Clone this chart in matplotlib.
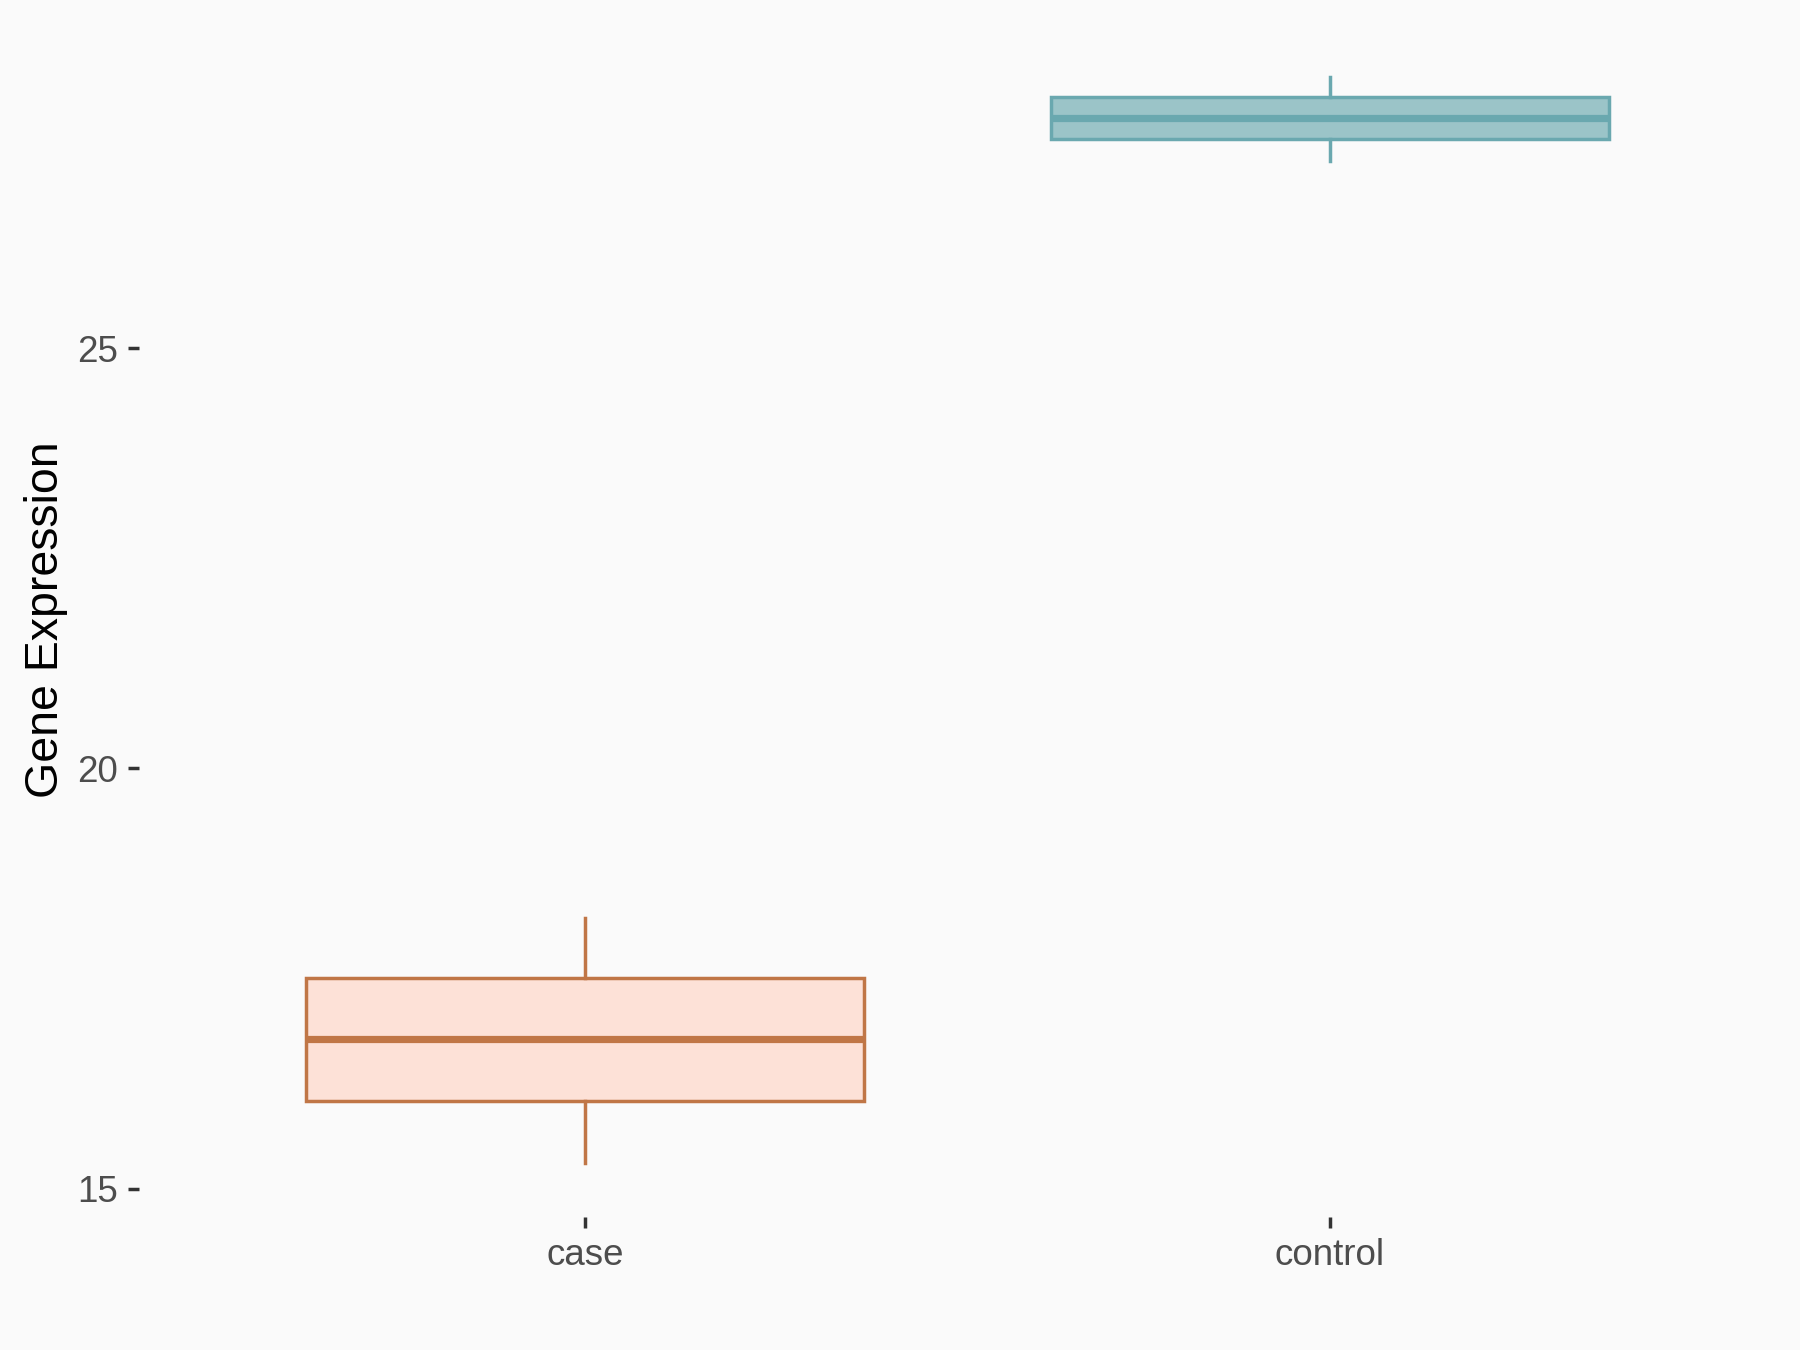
import matplotlib
matplotlib.use("Agg")
import matplotlib.pyplot as plt

groups = ["case", "control"]
q1 = [16.05, 27.49]
med = [16.78, 27.73]
q3 = [17.51, 27.98]
wlo = [15.31, 27.23]
whi = [18.22, 28.22]
edge_colors = ["#C07646", "#6AA8AF"]
fill_colors = ["#FDE1D7", "#9BC4C8"]
yticks = [15, 20, 25]

plt.rcParams['font.family'] = ['Liberation Sans', 'DejaVu Sans']
bg = "#FAFAFA"
fig = plt.figure(figsize=(18, 13.5), dpi=100, facecolor=bg)
ax = fig.add_axes([139/1800, 1 - 1217/1350, (1776-139)/1800, (1217-23)/1350])
ax.set_facecolor(bg)

stats = []
for i, g in enumerate(groups):
    stats.append(dict(label=g, med=med[i], q1=q1[i], q3=q3[i],
                      whislo=wlo[i], whishi=whi[i], fliers=[]))
pos = list(range(1, len(groups) + 1))
bp = ax.bxp(stats, positions=pos, widths=0.75, patch_artist=True,
            showcaps=False, showfliers=False)
for i in range(len(groups)):
    b = bp['boxes'][i]
    b.set_facecolor(fill_colors[i]); b.set_edgecolor(edge_colors[i]); b.set_linewidth(2.5)
    m = bp['medians'][i]
    m.set_color(edge_colors[i]); m.set_linewidth(5.2); m.set_solid_capstyle('butt')
    for w in bp['whiskers'][2*i:2*i+2]:
        w.set_color(edge_colors[i]); w.set_linewidth(2.5)

ymin = min(wlo); ymax = max(whi); r = ymax - ymin
ax.set_ylim(ymin - 0.05*r, ymax + 0.05*r)
ax.set_xlim(0.4, len(groups) + 0.6)
ax.set_yticks(yticks)
ax.set_yticklabels([str(t) for t in yticks])
ax.set_xticks(pos)
ax.set_xticklabels(groups)
for s in ax.spines.values():
    s.set_visible(False)
ax.tick_params(axis='both', length=8, width=2.5, color='#333333',
               labelcolor='#4D4D4D', labelsize=26.5, pad=7)
ax.set_ylabel("Gene Expression", fontsize=33.5, color='black', labelpad=7)
fig.savefig("out.png", dpi=100, facecolor=bg)
